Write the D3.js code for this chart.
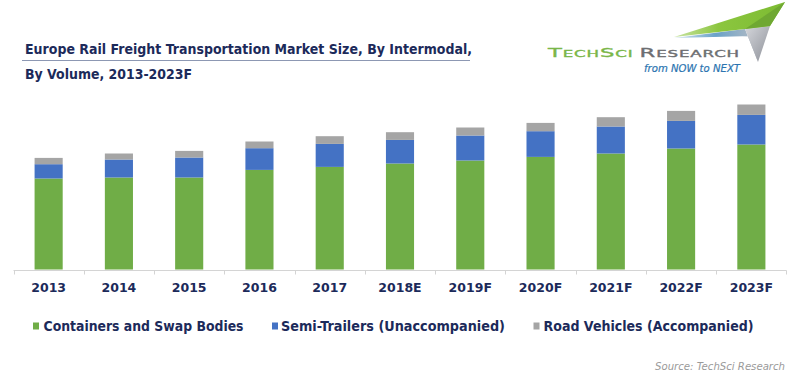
<!DOCTYPE html>
<html>
<head>
<meta charset="utf-8">
<script src="https://cdn.jsdelivr.net/npm/d3@7"></script>
<style>
  html, body { margin: 0; padding: 0; background: #fff; }
  svg { display: block; }
</style>
</head>
<body>
<svg id="chart" width="800" height="378"></svg>
<script>
// ---- data ----
const years = ["2013","2014","2015","2016","2017","2018E","2019F","2020F","2021F","2022F","2023F"];
const containers   = [91, 92, 92, 99.6, 102.6, 106, 109, 112.6, 116, 121, 125];
const semiTrailers = [14.3, 18, 20, 21.7, 23, 23.6, 25, 25.7, 27, 27.6, 29.6];
const roadVehicles = [6.3, 6, 6.6, 6.7, 7.7, 7.7, 8, 8.3, 9.3, 10, 10.4];
const seriesNames  = ["Containers and Swap Bodies", "Semi-Trailers (Unaccompanied)", "Road Vehicles (Accompanied)"];
const titleLines   = ["Europe Rail Freight Transportation Market Size, By Intermodal,", "By Volume, 2013-2023F"];

const colors = ["#70ad47", "#4472c4", "#a5a5a5"];
const navy = "#1c2a5a";

const svg = d3.select("#chart");

// build table
const keys = ["c", "s", "r"];
const table = years.map((y, i) => ({ year: y, c: containers[i], s: semiTrailers[i], r: roadVehicles[i] }));
const stacked = d3.stack().keys(keys)(table);

const x = d3.scaleBand().domain(years).range([13.5, 786.5]).paddingInner(0.6).paddingOuter(0.3);
const y = d3.scaleLinear().domain([0, 170]).range([269.5, 99.5]);

// bars
svg.append("g").selectAll("g")
  .data(stacked).join("g")
  .attr("fill", (d, i) => colors[i])
  .selectAll("rect")
  .data(d => d).join("rect")
  .attr("x", d => x(d.data.year))
  .attr("width", x.bandwidth())
  .attr("y", d => y(d[1]))
  .attr("height", d => y(d[0]) - y(d[1]));

// axis
const axisG = svg.append("g").attr("transform", "translate(0,270.5)");
axisG.append("line").attr("x1", 13.5).attr("x2", 786.5).attr("stroke", "#d4d4d4").attr("stroke-width", 1);
const bounds = d3.range(years.length + 1).map(i => 13.5 + i * (773 / years.length));
axisG.selectAll("line.tick").data(bounds).join("line")
  .attr("class", "tick")
  .attr("x1", d => Math.round(d) + 0.5).attr("x2", d => Math.round(d) + 0.5)
  .attr("y1", 0).attr("y2", 4)
  .attr("stroke", "#d4d4d4");

svg.append("g").selectAll("text").data(years).join("text")
  .attr("x", d => x(d) + x.bandwidth() / 2)
  .attr("y", 291.5)
  .attr("text-anchor", "middle")
  .attr("font-family", "DejaVu Sans")
  .attr("font-weight", "bold")
  .attr("font-size", 12.5)
  .attr("fill", navy)
  .text(d => d);

// title
svg.append("text").attr("x", 25).attr("y", 54)
  .attr("font-family", "DejaVu Sans").attr("font-weight", "bold").attr("font-size", 13.5)
  .attr("fill", navy).attr("textLength", 447).attr("lengthAdjust", "spacingAndGlyphs")
  .text(titleLines[0]);
svg.append("line").attr("x1", 22).attr("x2", 470).attr("y1", 60.5).attr("y2", 60.5)
  .attr("stroke", "#8d98b3").attr("stroke-width", 1.2);
svg.append("text").attr("x", 25).attr("y", 78.5)
  .attr("font-family", "DejaVu Sans").attr("font-weight", "bold").attr("font-size", 13.5)
  .attr("fill", navy).attr("textLength", 167).attr("lengthAdjust", "spacingAndGlyphs")
  .text(titleLines[1]);

// legend
const legendItems = [
  { sx: 33, tx: 43.5, w: 200 },
  { sx: 272, tx: 281, w: 224 },
  { sx: 533.5, tx: 543.5, w: 210 }
];
const lg = svg.append("g");
legendItems.forEach((it, i) => {
  lg.append("rect").attr("x", it.sx).attr("y", 322.5).attr("width", 6).attr("height", 7).attr("fill", colors[i]);
  lg.append("text").attr("x", it.tx).attr("y", 330.5)
    .attr("font-family", "DejaVu Sans").attr("font-weight", "bold").attr("font-size", 13.5)
    .attr("fill", navy).attr("textLength", it.w).attr("lengthAdjust", "spacingAndGlyphs")
    .text(seriesNames[i]);
});

// source
svg.append("text").attr("x", 785).attr("y", 369.5).attr("text-anchor", "end")
  .attr("font-family", "DejaVu Sans").attr("font-style", "italic").attr("font-size", 10.5)
  .attr("fill", "#9a9a9a").attr("textLength", 130).attr("lengthAdjust", "spacingAndGlyphs")
  .text("Source: TechSci Research");

// logo
const logo = svg.append("g");
const defs = svg.append("defs");
const gg = defs.append("linearGradient").attr("id", "wing").attr("x1", "0").attr("x2", "1").attr("y1", "0").attr("y2", "0");
gg.append("stop").attr("offset", "0").attr("stop-color", "#d6e6f0");
gg.append("stop").attr("offset", "0.5").attr("stop-color", "#6aa2c8");
gg.append("stop").attr("offset", "1").attr("stop-color", "#b8bcc4");
const gb = defs.append("linearGradient").attr("id", "body").attr("x1", "0").attr("x2", "1").attr("y1", "0").attr("y2", "1");
gb.append("stop").attr("offset", "0").attr("stop-color", "#d5d7dc");
gb.append("stop").attr("offset", "1").attr("stop-color", "#8d9098");
const gl = defs.append("linearGradient").attr("id", "green").attr("x1", "0").attr("x2", "1").attr("y1", "0").attr("y2", "0");
gl.append("stop").attr("offset", "0").attr("stop-color", "#c9e3a4");
gl.append("stop").attr("offset", "0.4").attr("stop-color", "#8cc63f");
gl.append("stop").attr("offset", "1").attr("stop-color", "#7cbb32");
logo.append("polygon").attr("points", "674,38 745,29 758,62 752,36").attr("fill", "url(#wing)");
logo.append("polygon").attr("points", "745,29 770,26 758,62").attr("fill", "url(#body)");
logo.append("polygon").attr("points", "674,37 785,2 770,26 745,29").attr("fill", "url(#green)");
logo.append("polygon").attr("points", "745,29 785,2 770,26").attr("fill", "#6fa832");

const lt = logo.append("text").attr("x", 548).attr("y", 56.5)
  .attr("font-family", "DejaVu Sans").attr("font-size", 13).attr("letter-spacing", 0.5)
  .attr("stroke-width", 0.35);
lt.append("tspan").attr("fill", "#7ab648").attr("stroke", "#7ab648").text("T");
lt.append("tspan").attr("fill", "#7ab648").attr("stroke", "#7ab648").attr("font-size", 9.5).text("ECH");
lt.append("tspan").attr("fill", "#7ab648").attr("stroke", "#7ab648").text("S");
lt.append("tspan").attr("fill", "#7ab648").attr("stroke", "#7ab648").attr("font-size", 9.5).text("CI ");
lt.append("tspan").attr("fill", "#6d6e71").attr("stroke", "#6d6e71").text("R");
lt.append("tspan").attr("fill", "#6d6e71").attr("stroke", "#6d6e71").attr("font-size", 9.5).text("ESEARCH");
lt.attr("textLength", 192).attr("lengthAdjust", "spacingAndGlyphs");

logo.append("text").attr("x", 740).attr("y", 72).attr("text-anchor", "end")
  .attr("font-family", "DejaVu Sans").attr("font-style", "italic").attr("font-size", 10)
  .attr("fill", "#2b74b0").attr("stroke", "#2b74b0").attr("stroke-width", 0.2)
  .attr("textLength", 96).attr("lengthAdjust", "spacingAndGlyphs")
  .text("from NOW to NEXT");
</script>
</body>
</html>
